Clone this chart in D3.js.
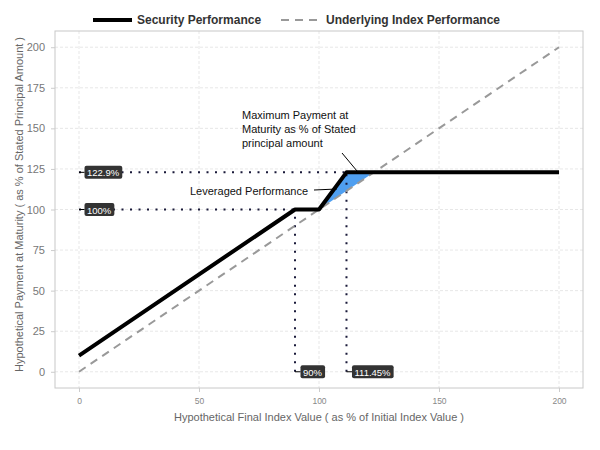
<!DOCTYPE html>
<html><head><meta charset="utf-8">
<script src="https://cdn.jsdelivr.net/npm/d3@7"></script>
<style>body{margin:0;background:#fff;font-family:"Liberation Sans",Arial,sans-serif;}</style>
</head><body><svg id="c" width="600" height="450"></svg>
<script>
const securityX = [0, 90, 100, 111.45, 200];
const securityY = [10, 100, 100, 122.9, 122.9];
const indexX = [0, 200];
const indexY = [0, 200];
const leveragedX = [100, 111.45, 122.9];
const leveragedY = [100, 122.9, 122.9];
const xTicks = [0, 50, 100, 150, 200];
const yTicks = [0, 25, 50, 75, 100, 125, 150, 175, 200];
const capLevel = 122.9, capX = 111.45, floorLevel = 100, floorX = 90;
const seriesNames = ["Security Performance", "Underlying Index Performance"];

const svg = d3.select("#c");
const L = 55, R = 583, T = 31, B = 388;
const x = d3.scaleLinear().domain([-10, 210]).range([L, R]);
const y = d3.scaleLinear().domain([-10, 210]).range([B, T]);

// grid
const g = svg.append("g");
g.selectAll(".vg").data(xTicks).enter().append("line")
  .attr("x1", d => x(d)).attr("x2", d => x(d)).attr("y1", T).attr("y2", B)
  .attr("stroke", "#dcdcdc").attr("stroke-width", 0.7).attr("stroke-dasharray", "3,2");
g.selectAll(".hg").data(yTicks).enter().append("line")
  .attr("y1", d => y(d)).attr("y2", d => y(d)).attr("x1", L).attr("x2", R)
  .attr("stroke", "#dcdcdc").attr("stroke-width", 0.7).attr("stroke-dasharray", "3,2");
svg.append("rect").attr("x", L).attr("y", T).attr("width", R - L).attr("height", B - T)
  .attr("fill", "none").attr("stroke", "#c8c8c8").attr("stroke-width", 1);

// axes
const xa = svg.append("g").attr("transform", `translate(0,${B})`)
  .call(d3.axisBottom(x).tickValues(xTicks).tickSize(4).tickPadding(6));
xa.select(".domain").remove();
xa.selectAll("line").attr("stroke", "#ccc");
xa.selectAll("text").attr("fill", "#888").attr("font-size", 8.5).attr("font-family", "Liberation Sans, Arial");
const ya = svg.append("g").attr("transform", `translate(${L},0)`)
  .call(d3.axisLeft(y).tickValues(yTicks).tickSize(4).tickPadding(6));
ya.select(".domain").remove();
ya.selectAll("line").attr("stroke", "#ccc");
ya.selectAll("text").attr("fill", "#777").attr("font-size", 11).attr("font-family", "Liberation Sans, Arial");

svg.append("text").attr("x", (L + R) / 2).attr("y", 421).attr("text-anchor", "middle")
  .attr("fill", "#666").attr("font-size", 11).text("Hypothetical Final Index Value ( as % of Initial Index Value )");
svg.append("text").attr("transform", `translate(23,${(T + B) / 2 - 5}) rotate(-90)`).attr("text-anchor", "middle")
  .attr("fill", "#666").attr("font-size", 11).text("Hypothetical Payment at Maturity ( as % of Stated Principal Amount )");

// leveraged fill
const pts = leveragedX.map((d, i) => [d, leveragedY[i]]);
svg.append("path").attr("d", d3.line().x(d => x(d[0])).y(d => y(d[1]))(pts) + "Z")
  .attr("fill", "#4f9ff0").attr("stroke", "none");

// dotted guides
const dot = (x1, y1, x2, y2) => svg.append("line")
  .attr("x1", x(x1)).attr("y1", y(y1)).attr("x2", x(x2)).attr("y2", y(y2))
  .attr("stroke", "#1a1a3a").attr("stroke-width", 2).attr("stroke-dasharray", "2,6.5");
dot(0, capLevel, capX, capLevel);
dot(0, floorLevel, floorX, floorLevel);
dot(floorX, 0, floorX, floorLevel);
dot(capX, 0, capX, capLevel);

// index line
svg.append("path").attr("d", d3.line().x(d => x(d[0])).y(d => y(d[1]))(indexX.map((d, i) => [d, indexY[i]])))
  .attr("fill", "none").attr("stroke", "#999").attr("stroke-width", 2).attr("stroke-dasharray", "8,6");
// security line
svg.append("path").attr("d", d3.line().x(d => x(d[0])).y(d => y(d[1]))(securityX.map((d, i) => [d, securityY[i]])))
  .attr("fill", "none").attr("stroke", "#000").attr("stroke-width", 4).attr("stroke-linejoin", "round");

// labels
function label(px, py, txt, dx, dy) {
  const t = svg.append("text").attr("x", px + dx + 3).attr("y", py + dy + 4)
    .attr("fill", "#fff").attr("font-size", 9.5).text(txt);
  const bb = t.node().getBBox();
  svg.insert("rect", () => t.node()).attr("x", bb.x - 2.5).attr("y", py + dy - 6.5)
    .attr("width", bb.width + 5).attr("height", 13).attr("rx", 2).attr("fill", "#333");
  svg.append("line").attr("x1", px).attr("y1", py).attr("x2", bb.x - 2.5).attr("y2", py + dy)
    .attr("stroke", "#000").attr("stroke-width", 1);
}
label(x(0), y(capLevel), "122.9%", 5, 0);
label(x(0), y(floorLevel), "100%", 5, 0);
label(x(floorX), y(0), "90%", 5, 0);
label(x(capX), y(0), "111.45%", 5, 0);

// annotations
const ann = ["Maximum Payment at", "Maturity as % of Stated", "principal amount"];
svg.append("g").selectAll("text").data(ann).enter().append("text")
  .attr("x", 242).attr("y", (d, i) => 119 + i * 14).attr("font-size", 11).attr("fill", "#111").text(d => d);
svg.append("line").attr("x1", 342).attr("y1", 153).attr("x2", 357).attr("y2", 171).attr("stroke", "#000").attr("stroke-width", 1);
svg.append("text").attr("x", 190).attr("y", 195).attr("font-size", 11).attr("fill", "#111").text("Leveraged Performance");
svg.append("line").attr("x1", 314).attr("y1", 190).attr("x2", 337).attr("y2", 189).attr("stroke", "#000").attr("stroke-width", 1);

// legend
svg.append("line").attr("x1", 93).attr("x2", 132).attr("y1", 20).attr("y2", 20).attr("stroke", "#000").attr("stroke-width", 4);
svg.append("text").attr("x", 137).attr("y", 24).attr("font-size", 12).attr("font-weight", "bold").attr("fill", "#333").text(seriesNames[0]);
svg.append("line").attr("x1", 281).attr("x2", 318).attr("y1", 20).attr("y2", 20).attr("stroke", "#999").attr("stroke-width", 2).attr("stroke-dasharray", "8,6");
svg.append("text").attr("x", 326).attr("y", 24).attr("font-size", 12).attr("font-weight", "bold").attr("fill", "#333").text(seriesNames[1]);
</script></body></html>
